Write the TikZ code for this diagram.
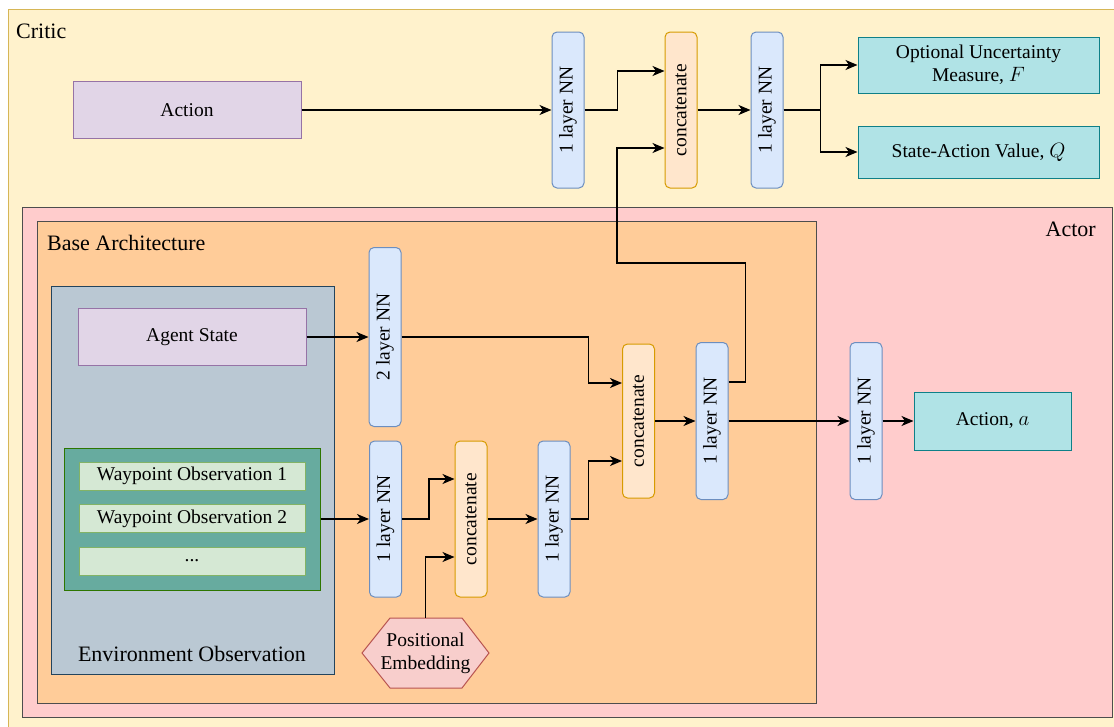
\documentclass[tikz,border=0pt]{standalone}
\usepackage{fontspec}
\setmainfont{Liberation Serif}
\usepackage{graphicx}
\usetikzlibrary{arrows.meta,positioning}

\definecolor{criticfill}{HTML}{FFF2CC}
\definecolor{criticline}{HTML}{D6B656}
\definecolor{actorfill}{HTML}{FFCCCC}
\definecolor{baseline}{HTML}{4D4D4D}
\definecolor{basefill}{HTML}{FFCC99}
\definecolor{envfill}{HTML}{BAC8D3}
\definecolor{envline}{HTML}{23445D}
\definecolor{wpfill}{HTML}{67AB9F}
\definecolor{wpline}{HTML}{2D7600}
\definecolor{obsfill}{HTML}{D5E8D4}
\definecolor{obsline}{HTML}{82B366}
\definecolor{infill}{HTML}{E1D5E7}
\definecolor{inline}{HTML}{9673A6}
\definecolor{nnfill}{HTML}{DAE8FC}
\definecolor{nnline}{HTML}{6C8EBF}
\definecolor{catfill}{HTML}{FFE6CC}
\definecolor{catline}{HTML}{D79B00}
\definecolor{outfill}{HTML}{B0E3E6}
\definecolor{outline}{HTML}{0E8088}
\definecolor{embfill}{HTML}{F8CECC}
\definecolor{embline}{HTML}{B85450}

\tikzset{
  lbl/.style={font=\rmfamily\fontsize{19.5}{23}\selectfont},
  grouplbl/.style={font=\rmfamily\fontsize{22}{26}\selectfont, inner sep=0pt},
  rect/.style={draw, line width=1pt, rectangle, inner sep=0pt, lbl},
  nn/.style={rect, draw=nnline, fill=nnfill, rounded corners=5pt,
    minimum width=32pt, minimum height=156pt},
  cat/.style={rect, draw=catline, fill=catfill, rounded corners=5pt,
    minimum width=32pt, minimum height=156pt},
  inbox/.style={rect, draw=inline, fill=infill, minimum width=228pt, minimum height=57pt},
  outbox/.style={rect, draw=outline, fill=outfill, align=center},
  obs/.style={rect, draw=obsline, fill=obsfill, minimum width=226pt, minimum height=28pt},
  hexa/.style={draw=embline, fill=embfill, line width=1pt},
  group/.style={line width=1pt},
}

\newcommand{\vtext}[1]{\rotatebox{90}{#1}}

\begin{document}
\begin{tikzpicture}[x=1pt,y=-1pt,>={Stealth[length=12pt,width=10pt,inset=3.5pt]}]
\useasboundingbox (0,0) rectangle (1114,726);

\filldraw[group,fill=criticfill,draw=criticline] (8,9) rectangle (1130,740);
\filldraw[group,fill=actorfill,draw=baseline] (22,207) rectangle (1112,717);
\filldraw[group,fill=basefill,draw=baseline] (37,221) rectangle (816,703);
\filldraw[group,fill=envfill,draw=envline] (51,286) rectangle (334,674);

\node[grouplbl,anchor=west] (criticlbl) at (16,31) {Critic};
\node[grouplbl,anchor=east] (actorlbl) at (1096,229) {Actor};
\node[grouplbl,anchor=west] (baselbl) at (47,243) {Base Architecture};
\node[grouplbl] (envlbl) at (192,654) {Environment Observation};

\node[inbox] (action) at (187,110) {Action};
\node[nn] (cnn1) at (568,110) {\vtext{1 layer NN}};
\node[cat] (ccat) at (681,110) {\vtext{concatenate}};
\node[nn] (cnn2) at (767,110) {\vtext{1 layer NN}};
\node[outbox,minimum width=241pt,minimum height=56pt] (unc) at (978.5,65)
  {Optional Uncertainty\\Measure, $F$};
\node[outbox,minimum width=241pt,minimum height=52pt] (qval) at (978.5,152)
  {State-Action Value, $Q$};

\node[inbox] (agent) at (192,337) {Agent State};
\node[nn,minimum height=179pt] (nn2) at (385,337) {\vtext{2 layer NN}};
\node[rect,draw=wpline,fill=wpfill,minimum width=256pt,minimum height=142pt] (wpbox) at (192,519) {};
\node[obs] (wp1) at (192,476) {Waypoint Observation 1};
\node[obs] (wp2) at (192,518.5) {Waypoint Observation 2};
\node[obs] (wp3) at (192,561) {...};
\node[nn] (nnw) at (385.5,519) {\vtext{1 layer NN}};
\node[cat] (pcat) at (471,519) {\vtext{concatenate}};
\node[nn] (nn3) at (554,519) {\vtext{1 layer NN}};
\filldraw[hexa] (362,653) -- (390,618) -- (462,618) -- (489,653) -- (462,688) -- (390,688) -- cycle;
\node[lbl,align=center,inner sep=0pt,minimum height=70pt] (posemb) at (425.5,653) {Positional\\Embedding};
\node[cat,minimum height=154pt] (bcat) at (638.5,421) {\vtext{concatenate}};
\node[nn,minimum height=157pt] (nn4) at (712,421) {\vtext{1 layer NN}};
\node[nn,minimum height=157pt] (nn5) at (866,421) {\vtext{1 layer NN}};
\node[outbox,minimum width=157pt,minimum height=58pt] (acta) at (992.5,421) {Action, $a$};

\coordinate (fb) at (617,263);

\begin{scope}[line width=1.3pt]
\draw [->] (action.east) -- (cnn1.west);
\draw [->] (cnn1.east) -- ++(33,0) |- ([yshift=39pt]ccat.west);
\draw [->] (ccat.east) -- (cnn2.west);
\draw [->] (cnn2.east) -- ++(37,0) |- (unc.west);
\draw [->] (cnn2.east) -- ++(37,0) |- (qval.west);

\draw [->] (agent.east) -- (nn2.west);
\draw [->] (nn2.east) -- ++(187,0) |- ([yshift=38pt]bcat.west);
\draw [->] (wpbox.east) -- (nnw.west);
\draw [->] (nnw.east) -- ++(27,0) |- ([yshift=40pt]pcat.west);
\draw [->] (posemb.north) |- ([yshift=-38pt]pcat.west);
\draw [->] (pcat.east) -- (nn3.west);
\draw [->] (nn3.east) -- ++(18,0) |- ([yshift=-40pt]bcat.west);
\draw [->] (bcat.east) -- (nn4.west);
\draw [->] ([yshift=39pt]nn4.east) -- ++(17,0) |- (fb) |- ([yshift=-38pt]ccat.west);
\draw [->] (nn4.east) -- (nn5.west);
\draw [->] (nn5.east) -- (acta.west);
\end{scope}
\end{tikzpicture}
\end{document}
